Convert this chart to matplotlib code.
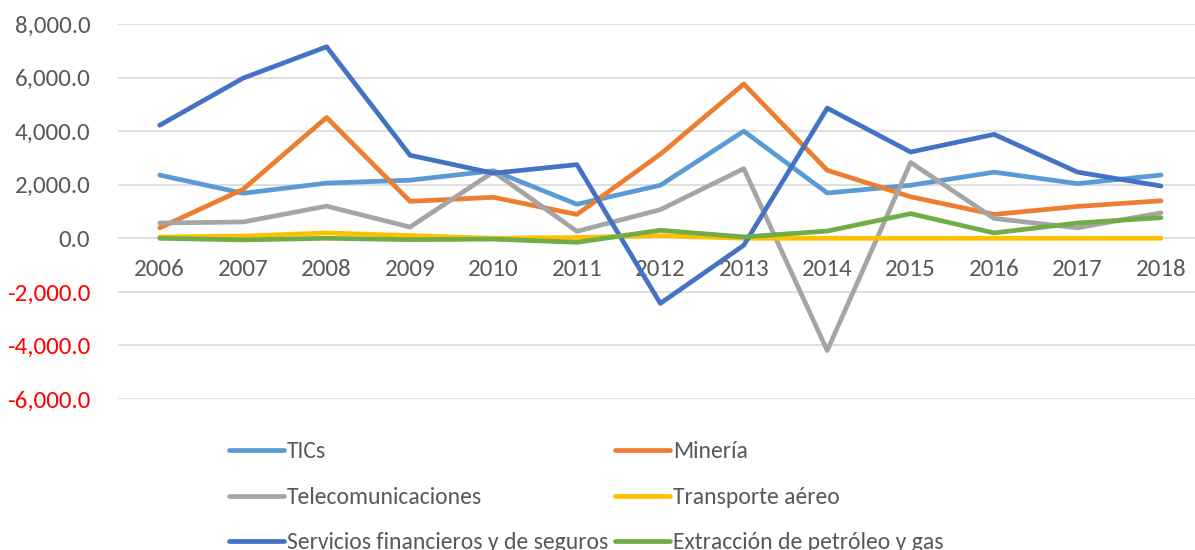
import numpy as np
from matplotlib import pyplot as plt
from matplotlib import font_manager

years = ['2006', '2007', '2008', '2009', '2010', '2011', '2012',
         '2013', '2014', '2015', '2016', '2017', '2018']

tics = [2360, 1680, 2060, 2170, 2520, 1270, 1980, 4000, 1690, 1980, 2470, 2040, 2360]
mineria = [390, 1830, 4510, 1380, 1530, 890, 3140, 5760, 2540, 1550, 890, 1190, 1400]
telecom = [570, 610, 1200, 420, 2480, 260, 1070, 2600, -4190, 2830, 740, 390, 950]
transporte = [50, 80, 200, 100, 0, 30, 100, 0, 0, 0, 0, 0, 0]
servicios = [4220, 5980, 7150, 3100, 2430, 2750, -2430, -260, 4860, 3220, 3880, 2470, 1950]
extraccion = [0, -60, 0, -50, -30, -150, 300, 50, 270, 920, 200, 570, 770]

series_names = ['TICs', 'Minería', 'Telecomunicaciones', 'Transporte aéreo',
                'Servicios financieros y de seguros', 'Extracción de petróleo y gas']
series_values = [tics, mineria, telecom, transporte, servicios, extraccion]
series_colors = ['#5B9BD5', '#ED7D31', '#A5A5A5', '#FFC000', '#4472C4', '#70AD47']

yticks = [-6000, -4000, -2000, 0, 2000, 4000, 6000, 8000]

# pick a narrow-ish font if one is there
names = set(f.name for f in font_manager.fontManager.ttflist)
font = 'Open Sans'
for cand in ['Carlito', 'Liberation Sans Narrow', 'Open Sans', 'Lato']:
    if cand in names:
        font = cand
        break
plt.rcParams['font.family'] = [font, 'DejaVu Sans']

fig = plt.figure(figsize=(11.95, 5.5), dpi=100)
ax = fig.add_axes([118 / 1195, 1 - 399 / 550, (1202.7 - 118) / 1195, (399 - 24) / 550])

x = np.arange(len(years))
lines = []
for name, vals, col in zip(series_names, series_values, series_colors):
    ln, = ax.plot(x, vals, color=col, lw=3.4, label=name,
                  solid_capstyle='round', solid_joinstyle='round')
    lines.append(ln)

ax.set_xlim(-0.5, len(years) - 0.5)
ax.set_ylim(-6000, 8000)
ax.set_yticks(yticks)
ax.set_yticklabels(['{:,.1f}'.format(v) for v in yticks])
for lab, v in zip(ax.get_yticklabels(), yticks):
    lab.set_color('#FF0000' if v < 0 else '#595959')
ax.tick_params(axis='y', length=0, pad=20, labelsize=18)

ax.set_xticks(x)
ax.set_xticklabels(years)
ax.spines['bottom'].set_position(('data', 0))
ax.tick_params(axis='x', length=0, pad=15, labelsize=18, labelcolor='#595959')

for s in ax.spines.values():
    s.set_visible(False)
ax.grid(axis='y', color='#D9D9D9', lw=1.2)
ax.set_axisbelow(True)

# legend fills column by column, so reorder to read row by row
order = [0, 2, 4, 1, 3, 5]
fig.legend([lines[i] for i in order], [series_names[i] for i in order],
           loc='upper left', bbox_to_anchor=(208 / 1195, 1 - 420 / 550), ncol=2,
           frameon=False, fontsize=17, handlelength=2.3, handletextpad=0.15,
           columnspacing=0.3, labelspacing=1.04, labelcolor='#595959')

fig.savefig('out.png', dpi=100)
